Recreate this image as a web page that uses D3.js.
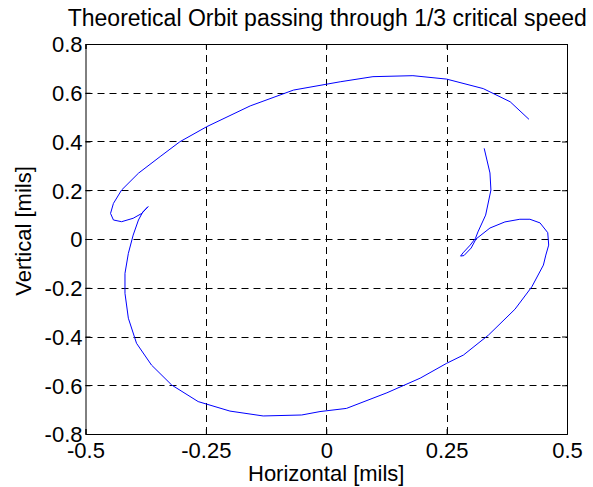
<!DOCTYPE html>
<html>
<head>
<meta charset="utf-8">
<script src="https://cdn.jsdelivr.net/npm/d3@7"></script>
<style>
  html, body { margin: 0; padding: 0; background: #fff; }
  svg { display: block; font-family: "Liberation Sans", Arial, sans-serif; }
</style>
</head>
<body>
<svg id="chart" width="593" height="487"></svg>
<script>
// Orbit trace, horizontal displacement [mils]
const orbitX = [
  0.328, 0.340, 0.342, 0.331, 0.315, 0.310, 0.299, 0.284, 0.279, 0.286,
  0.301, 0.311, 0.340, 0.371, 0.402, 0.423, 0.444, 0.460, 0.462, 0.456,
  0.451, 0.427, 0.392, 0.337, 0.285, 0.250, 0.195, 0.126, 0.042, -0.013,
  -0.051, -0.131, -0.200, -0.266, -0.321, -0.363, -0.394, -0.411, -0.418, -0.418,
  -0.411, -0.401, -0.390, -0.381, -0.370, -0.383, -0.401, -0.425, -0.442, -0.448,
  -0.442, -0.425, -0.390, -0.345, -0.304, -0.248, -0.158, -0.068, 0.029, 0.097,
  0.180, 0.250, 0.326, 0.382, 0.421
];
// Orbit trace, vertical displacement [mils]
const orbitY = [
  0.372, 0.271, 0.201, 0.098, 0.029, 0.003, -0.025, -0.057, -0.070, -0.068,
  -0.037, 0.000, 0.045, 0.070, 0.081, 0.081, 0.066, 0.026, -0.025, -0.066,
  -0.107, -0.196, -0.288, -0.394, -0.476, -0.510, -0.571, -0.631, -0.695, -0.708,
  -0.722, -0.726, -0.706, -0.667, -0.599, -0.517, -0.428, -0.325, -0.223, -0.141,
  -0.059, 0.016, 0.078, 0.111, 0.133, 0.105, 0.085, 0.071, 0.078, 0.105,
  0.146, 0.201, 0.270, 0.338, 0.399, 0.461, 0.546, 0.611, 0.645, 0.666,
  0.670, 0.656, 0.617, 0.563, 0.491
];
const xTicks = [-0.5, -0.25, 0, 0.25, 0.5];
const xTickLabels = ["-0.5", "-0.25", "0", "0.25", "0.5"];
const yTicks = [-0.8, -0.6, -0.4, -0.2, 0, 0.2, 0.4, 0.6, 0.8];
const yTickLabels = ["-0.8", "-0.6", "-0.4", "-0.2", "0", "0.2", "0.4", "0.6", "0.8"];

const titleText = "Theoretical Orbit passing through 1/3 critical speed";
const xLabel = "Horizontal [mils]";
const yLabel = "Vertical [mils]";

const svg = d3.select("#chart");
const plotL = 85.5, plotR = 567, plotT = 44, plotB = 434;

const x = d3.scaleLinear().domain([-0.5, 0.5]).range([plotL, plotR]);
const y = d3.scaleLinear().domain([-0.8, 0.8]).range([plotB, plotT]);

// dashed grid
const grid = svg.append("g").attr("stroke", "#000").attr("stroke-width", 1)
  .attr("stroke-dasharray", "7,5").attr("fill", "none");
grid.selectAll("line.gx").data(xTicks.slice(1, -1)).join("line")
  .attr("x1", d => Math.round(x(d)) + 0.5).attr("x2", d => Math.round(x(d)) + 0.5)
  .attr("y1", plotB).attr("y2", plotT);
grid.selectAll("line.gy").data(yTicks.slice(1, -1)).join("line")
  .attr("y1", d => Math.round(y(d)) + 0.5).attr("y2", d => Math.round(y(d)) + 0.5)
  .attr("x1", plotL).attr("x2", plotR);

// orbit
const line = d3.line().x(d => x(d[0])).y(d => y(d[1]));
svg.append("path")
  .datum(d3.zip(orbitX, orbitY))
  .attr("d", line)
  .attr("fill", "none")
  .attr("stroke", "#0000ff")
  .attr("stroke-width", 1)
  .attr("stroke-linejoin", "round");

// axes box with inward ticks on all four sides
const tickLen = 5;
const axB = svg.append("g").attr("transform", `translate(0,${plotB})`)
  .call(d3.axisBottom(x).tickValues(xTicks).tickSize(-tickLen).tickPadding(8)
    .tickFormat((d, i) => xTickLabels[i]));
const axT = svg.append("g").attr("transform", `translate(0,${plotT})`)
  .call(d3.axisTop(x).tickValues(xTicks).tickSize(-tickLen).tickFormat(""));
const axL = svg.append("g").attr("transform", `translate(${plotL},0)`)
  .call(d3.axisLeft(y).tickValues(yTicks).tickSize(-tickLen).tickPadding(3)
    .tickFormat((d, i) => yTickLabels[i]));
const axR = svg.append("g").attr("transform", `translate(${plotR},0)`)
  .call(d3.axisRight(y).tickValues(yTicks).tickSize(-tickLen).tickFormat(""));

[axB, axT, axL, axR].forEach(g => {
  g.select(".domain").attr("stroke", "#000").attr("stroke-width", 1);
  g.selectAll(".tick line").attr("stroke", "#000");
  g.selectAll("text").attr("fill", "#000")
    .style("font-family", "'Liberation Sans', Arial, sans-serif")
    .style("font-size", "22px");
});
axB.selectAll("text").attr("dy", "0.71em");
axL.selectAll("text").attr("dy", "0.36em");

svg.append("text")
  .attr("x", (plotL + plotR) / 2 + 1).attr("y", 26)
  .attr("text-anchor", "middle")
  .style("font-size", "23px")
  .text(titleText);

svg.append("text")
  .attr("x", (plotL + plotR) / 2).attr("y", 481)
  .attr("text-anchor", "middle")
  .style("font-size", "22px")
  .text(xLabel);

svg.append("text")
  .attr("transform", `translate(31,${(plotT + plotB) / 2 - 8}) rotate(-90)`)
  .attr("text-anchor", "middle")
  .style("font-size", "22px")
  .text(yLabel);
</script>
</body>
</html>
